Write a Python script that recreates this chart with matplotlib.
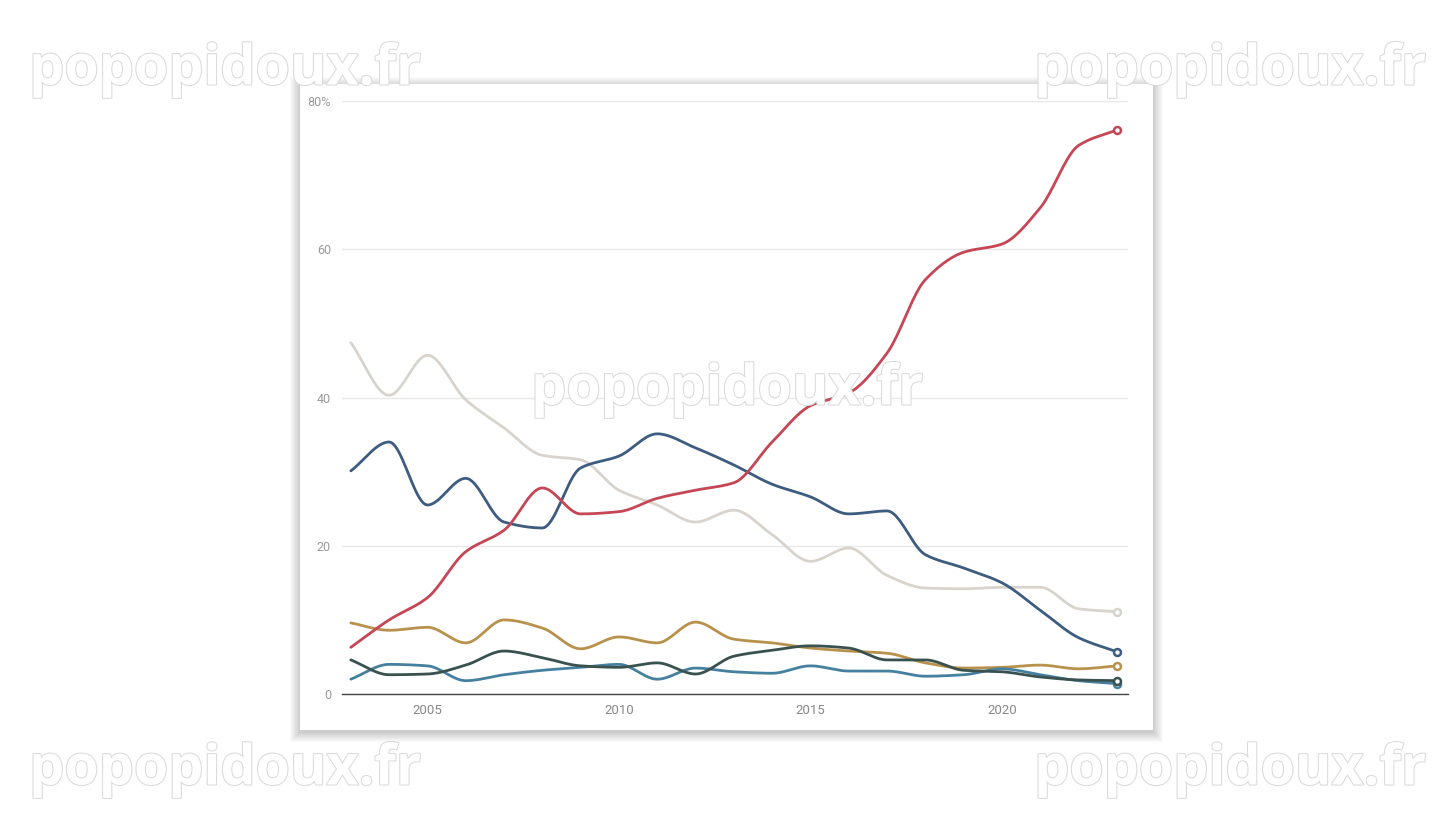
import matplotlib
matplotlib.use("Agg")
import matplotlib.pyplot as plt
import matplotlib.patheffects as pe
from matplotlib.patches import FancyBboxPatch
import numpy as np

years = list(range(2003, 2024))

# parts en %
rouge = [6.3, 10.0, 13.0, 19.2, 22.1, 27.8, 24.3, 24.6, 26.4, 27.5, 28.5,
         34.0, 38.9, 40.6, 46.0, 55.9, 59.6, 60.7, 65.6, 74.0, 76.1]
bleu_fonce = [30.1, 34.0, 25.5, 29.1, 23.2, 22.4, 30.5, 32.1, 35.1, 33.2, 30.9,
              28.3, 26.6, 24.3, 24.7, 18.8, 17.0, 15.0, 11.3, 7.6, 5.7]
gris = [47.4, 40.3, 45.7, 39.7, 35.9, 32.2, 31.6, 27.5, 25.5, 23.2, 24.8,
        21.5, 17.9, 19.7, 16.0, 14.3, 14.2, 14.4, 14.4, 11.5, 11.1]
ocre = [9.6, 8.6, 9.0, 6.9, 10.0, 8.9, 6.1, 7.7, 6.9, 9.7, 7.4,
        6.9, 6.2, 5.8, 5.5, 4.2, 3.5, 3.6, 3.9, 3.4, 3.8]
vert_fonce = [4.6, 2.6, 2.7, 3.9, 5.8, 4.9, 3.8, 3.6, 4.2, 2.7, 5.1,
              5.9, 6.5, 6.2, 4.6, 4.6, 3.2, 3.0, 2.3, 1.9, 1.8]
bleu_canard = [2.0, 4.0, 3.8, 1.8, 2.6, 3.2, 3.6, 4.0, 2.0, 3.5, 3.0,
               2.8, 3.8, 3.1, 3.1, 2.4, 2.6, 3.4, 2.6, 1.8, 1.4]

series = [
    (gris, "#d8d4cd"),
    (ocre, "#b8924c"),
    (bleu_canard, "#46809f"),
    (vert_fonce, "#3a524f"),
    (bleu_fonce, "#3d5c80"),
    (rouge, "#c64656"),
]


def monotone(x, y, n=20):
    # courbe monotone (type d3 curveMonotoneX) pour le tracé
    x = np.asarray(x, float)
    y = np.asarray(y, float)
    h = np.diff(x)
    d = np.diff(y) / h
    m = np.zeros_like(y)
    m[0], m[-1] = d[0], d[-1]
    for i in range(1, len(y) - 1):
        if d[i - 1] * d[i] > 0:
            m[i] = 2 / (1 / d[i - 1] + 1 / d[i])
    xs, ys = [], []
    for i in range(len(h)):
        t = np.linspace(0, 1, n, endpoint=False)
        h00 = 2 * t**3 - 3 * t**2 + 1
        h10 = t**3 - 2 * t**2 + t
        h01 = -2 * t**3 + 3 * t**2
        h11 = t**3 - t**2
        xs.append(x[i] + t * h[i])
        ys.append(h00 * y[i] + h10 * h[i] * m[i] + h01 * y[i + 1] + h11 * h[i] * m[i + 1])
    xs.append([x[-1]])
    ys.append([y[-1]])
    return np.concatenate(xs), np.concatenate(ys)


plt.rcParams['font.family'] = ['Roboto', 'DejaVu Sans']
fig = plt.figure(figsize=(14.53, 8.14), dpi=100)
fig.patch.set_facecolor("white")

# carte blanche avec ombre douce (en pixels)
W, H = 1453, 814
cx0, cy0, cx1, cy1 = 300, 84, 1153, 730
for k in range(10, 0, -1):
    fig.patches.append(FancyBboxPatch(((cx0 - k) / W, 1 - (cy1 + k + 2) / H),
                                      (cx1 - cx0 + 2 * k) / W, (cy1 - cy0 + 2 * k - 1) / H,
                                      boxstyle="square,pad=0", transform=fig.transFigure,
                                      facecolor="#000000", alpha=0.018, edgecolor="none", zorder=0))
fig.patches.append(FancyBboxPatch((cx0 / W, 1 - cy1 / H), (cx1 - cx0) / W, (cy1 - cy0) / H,
                                  boxstyle="square,pad=0", transform=fig.transFigure,
                                  facecolor="white", edgecolor="none", zorder=1))

ax = fig.add_axes([0.2354, 0.1474, 0.5409, 0.7285])
ax.set_facecolor("none")
ax.set_zorder(2)

for vals, col in series:
    xs, ys = monotone(years, vals)
    ax.plot(xs, ys, color=col, lw=2, solid_capstyle="round", zorder=3)
    ax.plot(years[-1], vals[-1], marker="o", ms=5, mfc="white", mec=col, mew=1.8, zorder=4)

ax.set_xlim(2002.77, 2023.29)
ax.set_ylim(0, 80)
ax.set_yticks([0, 20, 40, 60, 80])
ax.set_yticklabels(["0", "20", "40", "60", "80%"])
ax.set_xticks([2005, 2010, 2015, 2020])
ax.grid(axis="y", color="#e8e8e8", lw=1)
ax.set_axisbelow(True)
for s in ["top", "right", "left"]:
    ax.spines[s].set_visible(False)
ax.spines["bottom"].set_color("#444444")
ax.spines["bottom"].set_linewidth(1)
ax.tick_params(axis="both", length=0, labelsize=9, labelcolor="#9a9a9a")
ax.tick_params(axis="y", pad=8)
ax.tick_params(axis="x", pad=7, labelsize=9.5, labelcolor="#888888")

# filigranes
for (fx, fy) in [(225, 70), (1230, 70), (727, 390), (225, 770), (1230, 770)]:
    fig.text(fx / W, 1 - fy / H, "popopidoux.fr", ha="center", va="center",
             fontsize=40, fontweight="bold", family=["Open Sans", "DejaVu Sans"],
             color="white", zorder=10,
             path_effects=[pe.Stroke(linewidth=1.5, foreground="#dadada"), pe.Normal()])

fig.savefig("out.png", dpi=100)
